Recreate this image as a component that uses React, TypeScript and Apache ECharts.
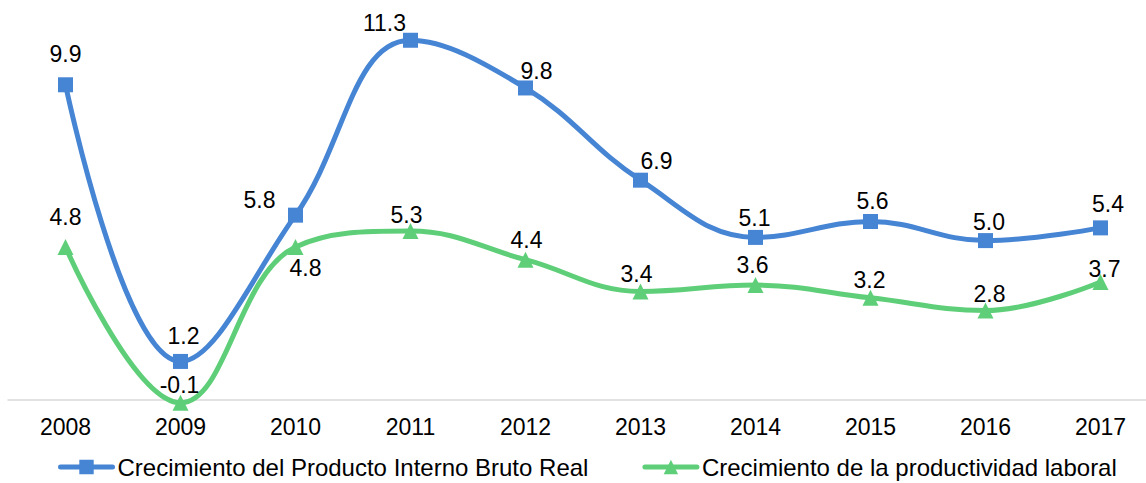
import React, { useEffect, useRef } from 'react';
import * as echarts from 'echarts';

const years = ['2008', '2009', '2010', '2011', '2012', '2013', '2014', '2015', '2016', '2017'];
const gdpGrowth = [9.9, 1.2, 5.8, 11.3, 9.8, 6.9, 5.1, 5.6, 5.0, 5.4];
const productivityGrowth = [4.8, -0.1, 4.8, 5.3, 4.4, 3.4, 3.6, 3.2, 2.8, 3.7];
const seriesNames = ['Crecimiento del Producto Interno Bruto Real', 'Crecimiento de la productividad laboral'];

// label placement (pixels relative to each marker)
const gdpLabelOffsets = [[0, -31], [3, -25], [-36, -15], [-26, -17], [11, -17], [16, -19.5], [-1, -19], [2, -21], [3.5, -18.5], [7.5, -23.5]];
const prodLabelOffsets = [[0, -30], [-1, -18], [10, 21.5], [-4, -16], [1, -20], [-4, -17], [-3, -20], [-1, -18], [4, -17], [4, -12.5]];

const FONT = '"Liberation Sans", Arial, sans-serif';
const BLUE = '#4684D4';
const GREEN = '#5ECF78';

export default function App() {
  const ref = useRef<HTMLDivElement>(null);
  useEffect(() => {
    if (!ref.current) return;
    const chart = echarts.init(ref.current, undefined, { renderer: 'svg' });
    const labelBase = {
      show: true,
      position: 'inside' as const,
      fontSize: 23,
      fontFamily: FONT,
      color: '#000',
      formatter: (p: any) => Number(p.value).toFixed(1),
    };
    chart.setOption({
      animation: false,
      backgroundColor: '#fff',
      textStyle: { fontFamily: FONT },
      grid: { left: 8, top: 18, width: 1150, height: 381.6, containLabel: false },
      legend: {
        left: 58,
        top: 455,
        padding: 0,
        itemWidth: 52,
        itemHeight: 18,
        itemGap: 54,
        lineStyle: { width: 5, cap: 'round' },
        textStyle: { fontSize: 24, fontFamily: FONT, color: '#000' },
        data: seriesNames,
      },
      xAxis: {
        type: 'category',
        data: years,
        boundaryGap: true,
        axisLine: { show: true, lineStyle: { color: '#d9d9d9', width: 1.5 } },
        axisTick: { show: false },
        axisLabel: { fontSize: 23, fontFamily: FONT, color: '#000', margin: 16 },
        splitLine: { show: false },
      },
      yAxis: {
        type: 'value',
        min: 0,
        max: 12,
        show: false,
        splitLine: { show: false },
      },
      series: [
        {
          name: seriesNames[0],
          type: 'line',
          smooth: 0.4,
          clip: false,
          symbol: 'rect',
          symbolSize: 15,
          lineStyle: { color: BLUE, width: 5 },
          itemStyle: { color: BLUE },
          label: labelBase,
          data: gdpGrowth.map((v, i) => ({ value: v, label: { offset: gdpLabelOffsets[i] } })),
        },
        {
          name: seriesNames[1],
          type: 'line',
          smooth: 0.4,
          clip: false,
          symbol: 'triangle',
          symbolSize: 16,
          lineStyle: { color: GREEN, width: 5 },
          itemStyle: { color: GREEN },
          label: labelBase,
          data: productivityGrowth.map((v, i) => ({ value: v, label: { offset: prodLabelOffsets[i] } })),
        },
      ],
    });
    return () => chart.dispose();
  }, []);
  return (
    <div
      style={{ position: 'absolute', left: 0, top: 0, width: 1146, height: 483, overflow: 'hidden', background: '#fff' }}
    >
      <div ref={ref} style={{ width: 1170, height: 483 }} />
    </div>
  );
}
